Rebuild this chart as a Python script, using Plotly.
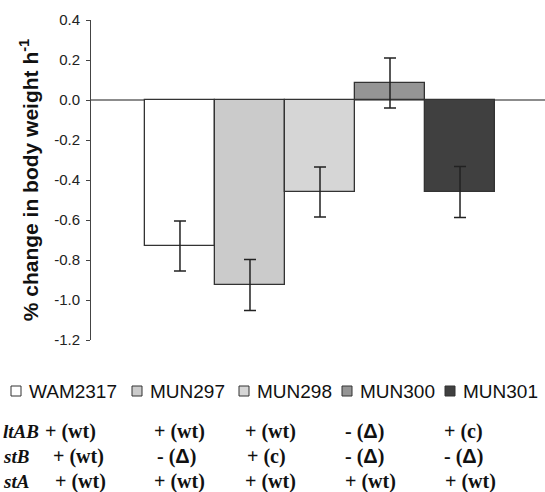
import plotly.graph_objects as go

# ---- data ----
strains = ["WAM2317", "MUN297", "MUN298", "MUN300", "MUN301"]
values = [-0.73, -0.925, -0.46, 0.085, -0.46]
errors = [0.125, 0.127, 0.125, 0.125, 0.127]
colors = ["#ffffff", "#cbcbcb", "#d6d6d6", "#959595", "#404040"]

ytick_vals = [0.4, 0.2, 0.0, -0.2, -0.4, -0.6, -0.8, -1.0, -1.2]
ytick_text = ["0.4", "0.2", "0.0", "-0.2", "-0.4", "-0.6", "-0.8", "-1.0", "-1.2"]

row_labels = ["ltAB", "stB", "stA"]
row1 = ["+ (wt)", "+ (wt)", "+ (wt)", "- (Δ)", "+ (c)"]
row2 = ["+ (wt)", "- (Δ)", "+ (c)", "- (Δ)", "- (Δ)"]
row3 = ["+ (wt)", "+ (wt)", "+ (wt)", "+ (wt)", "+ (wt)"]

# ---- layout geometry (pixels) ----
W, H = 545, 492
ML, MR, MT, MB = 91, 0, 20, 152
PW, PH = W - ML - MR, H - MT - MB


def px_x(px):
    return (px - ML) / PW


def px_y(py):
    return (H - MB - py) / PH


fig = go.Figure()
fig.add_trace(go.Bar(
    x=list(range(len(strains))),
    y=values,
    width=1.0,
    marker=dict(color=colors, line=dict(color="#333333", width=1.3)),
    error_y=dict(type="data", array=errors, visible=True,
                 color="#222222", thickness=1.5, width=6),
    showlegend=False,
    hovertext=strains,
))

annotations = []
shapes = []

# manual legend
leg_sq_x = [11, 132, 239, 342, 445]
leg_y = 391
for name, col, sx in zip(strains, colors, leg_sq_x):
    shapes.append(dict(type="rect", xref="paper", yref="paper",
                       x0=px_x(sx), x1=px_x(sx + 10),
                       y0=px_y(leg_y + 5), y1=px_y(leg_y - 5),
                       fillcolor=col, line=dict(color="#333333", width=1)))
    annotations.append(dict(text=name, xref="paper", yref="paper",
                            x=px_x(sx + 16), y=px_y(leg_y),
                            xanchor="left", yanchor="middle", showarrow=False,
                            font=dict(family="Arial, Liberation Sans", size=19, color="#111111")))

# genotype table
row_y = [431, 456, 481]
col_x = [[43, 152, 243, 343, 442],
         [51, 155, 245, 343, 442],
         [53, 152, 243, 343, 443]]
serif = dict(family="Times New Roman, Liberation Serif", size=20, color="#111111")
serif_lab = dict(family="Times New Roman, Liberation Serif", size=19, color="#111111")


def fmt(cell):
    cell = cell.replace("Δ", "<span style='font-family:Arial, Liberation Sans'>Δ</span>")
    return "<b>" + cell + "</b>"


for lab, ry, row, cx in zip(row_labels, row_y, [row1, row2, row3], col_x):
    annotations.append(dict(text="<b><i>" + lab + "</i></b>", xref="paper", yref="paper",
                            x=px_x(1), y=px_y(ry), xanchor="left", yanchor="middle",
                            showarrow=False, font=serif_lab))
    for cell, x0 in zip(row, cx):
        annotations.append(dict(text=fmt(cell), xref="paper", yref="paper",
                                x=px_x(x0), y=px_y(ry), xanchor="left", yanchor="middle",
                                showarrow=False, font=serif))

fig.update_layout(
    width=W, height=H,
    margin=dict(l=ML, r=MR, t=MT, b=MB, pad=0),
    paper_bgcolor="white", plot_bgcolor="white",
    bargap=0,
    annotations=annotations,
    shapes=shapes,
    xaxis=dict(range=[-1.271, 5.214], visible=False, fixedrange=True),
    yaxis=dict(
        range=[-1.2, 0.4],
        tickvals=ytick_vals, ticktext=ytick_text,
        showgrid=False,
        showline=True, linecolor="#444444", linewidth=1,
        ticks="outside", ticklen=4, tickcolor="#444444", tickwidth=1,
        ticklabelstandoff=3,
        tickfont=dict(family="Arial, Liberation Sans", size=15, color="#222222"),
        zeroline=True, zerolinecolor="#8c8c8c", zerolinewidth=1.5,
        title=dict(text="<b>% change in body weight h<sup>-1</sup></b>",
                   font=dict(family="Arial, Liberation Sans", size=21, color="#111111"),
                   standoff=9),
    ),
    showlegend=False,
)

fig.write_html(
    "out.html",
    config={"displayModeBar": False},
    post_script="document.body.style.margin='0';document.body.style.overflow='hidden';",
)
